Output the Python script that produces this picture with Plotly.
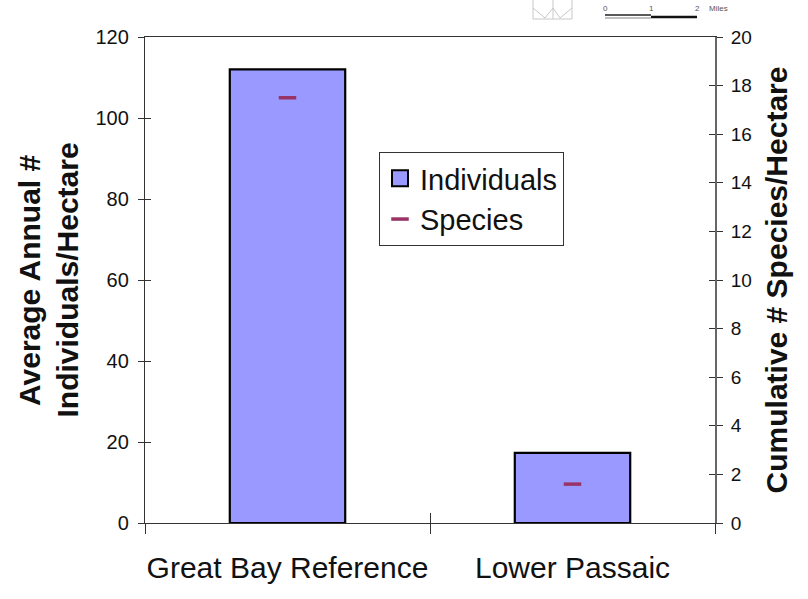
import plotly.graph_objects as go

categories = ["Great Bay Reference", "Lower Passaic"]
individuals = [112, 17.3]
species = [17.5, 1.6]
left_ticks = [0, 20, 40, 60, 80, 100, 120]
right_ticks = list(range(0, 21, 2))
left_title_lines = ["Average Annual #", "Individuals/Hectare"]

W, H = 808, 599
L, R, T, B = 145, 715, 37, 523  # plot area in page pixels
FONT = "Liberation Sans, Arial, sans-serif"
INK = "#111111"
AX = "#333333"

fig = go.Figure()
fig.add_trace(go.Bar(x=categories, y=individuals, name="Individuals", yaxis="y", showlegend=False,
                     marker=dict(color="#9999ff", line=dict(color="#000000", width=2.2)),
                     width=0.405))
fig.add_trace(go.Scatter(x=[None], y=[None], name="Individuals", yaxis="y", mode="markers",
                         marker=dict(symbol="square", size=16, color="#9999ff",
                                     line=dict(color="#000000", width=2))))
fig.add_trace(go.Scatter(x=categories, y=species, name="Species", yaxis="y2", mode="markers",
                         marker=dict(symbol="line-ew", size=12.5, color="#993366",
                                     line=dict(color="#993366", width=3.5))))
# empty traces that keep the inner half of the crossing tick marks on screen
fig.add_trace(go.Scatter(x=categories, y=[None, None], xaxis="x2", yaxis="y3", showlegend=False,
                         hoverinfo="skip"))
fig.add_trace(go.Scatter(x=categories, y=[None, None], xaxis="x2", yaxis="y4", showlegend=False,
                         hoverinfo="skip"))

axis_line = dict(showline=True, linecolor=AX, linewidth=1.3, showgrid=False, zeroline=False,
                 automargin=False)
right_line = dict(showline=True, linecolor="#666666", linewidth=2, showgrid=False, zeroline=False,
                  automargin=False)
tick = dict(tickcolor=AX, tickwidth=1)
fig.update_layout(
    width=W, height=H, autosize=False,
    margin=dict(l=L, r=W - R, t=T, b=H - B, pad=0),
    paper_bgcolor="white", plot_bgcolor="white",
    font=dict(family=FONT, color=INK, size=18),
    xaxis=dict(type="category", tickson="boundaries", ticks="outside", ticklen=10, tickangle=0,
               tickfont=dict(size=30), ticklabelstandoff=18, mirror=True, **tick, **axis_line),
    xaxis2=dict(type="category", overlaying="x", matches="x", tickson="boundaries", ticks="inside",
                ticklen=10, showticklabels=False, anchor="y", **tick, **axis_line),
    yaxis=dict(range=[0, 120], tickvals=left_ticks, ticks="outside", ticklen=6, anchor="x",
               tickfont=dict(size=20), ticklabelstandoff=5, **tick, **axis_line),
    yaxis3=dict(range=[0, 120], tickvals=left_ticks, overlaying="y", ticks="inside", ticklen=6,
                showticklabels=False, anchor="x2", **tick, **axis_line),
    yaxis2=dict(range=[0, 20], tickvals=right_ticks, overlaying="y", side="right", ticks="outside",
                ticklen=6, tickfont=dict(size=19), ticklabelstandoff=4, anchor="x",
                title=dict(text="<b>Cumulative # Species/Hectare</b>", font=dict(size=30)),
                **tick, **right_line),
    yaxis4=dict(range=[0, 20], tickvals=right_ticks, overlaying="y", side="right", ticks="inside",
                ticklen=6, showticklabels=False, anchor="x2", **tick, **right_line),
    showlegend=True,
    legend=dict(x=(379 - L) / (R - L), y=1 - (152 - T) / (B - T), xanchor="left", yanchor="top",
                bgcolor="white", bordercolor=AX, borderwidth=1,
                font=dict(size=29), tracegroupgap=0),
)

# left axis title, one annotation per line so the line spacing can follow the original
for line, x in zip(left_title_lines, [29, 66.5]):
    fig.add_annotation(text=f"<b>{line}</b>", xref="paper", yref="paper",
                       x=(x - L) / (R - L), y=1 - (280 - T) / (B - T), textangle=-90,
                       xanchor="center", yanchor="middle", showarrow=False,
                       font=dict(size=30, color=INK))

# faint map fragment cropped at the top of the picture
grey = dict(color="#c8c8c8", width=1)
shapes = [
    dict(type="rect", x0=533, x1=572, y0=-2, y1=19, line=grey),
    dict(type="line", x0=553, x1=553, y0=-2, y1=19, line=grey),
    dict(type="line", x0=533, x1=545, y0=8, y1=18, line=grey),
    dict(type="line", x0=572, x1=560, y0=8, y1=18, line=grey),
    dict(type="line", x0=553, x1=545, y0=8, y1=18, line=grey),
    dict(type="line", x0=553, x1=560, y0=8, y1=18, line=grey),
    dict(type="line", x0=605, x1=651, y0=15, y1=15, line=dict(color="#222222", width=1.5)),
    dict(type="line", x0=605, x1=651, y0=18, y1=18, line=dict(color="#aaaaaa", width=1.5)),
    dict(type="line", x0=651, x1=697, y0=17, y1=17, line=dict(color="#111111", width=2.5)),
]
for s in shapes:
    s.update(xref="paper", yref="paper", x0=(s["x0"] - L) / (R - L), x1=(s["x1"] - L) / (R - L),
             y0=1 - (s["y0"] - T) / (B - T), y1=1 - (s["y1"] - T) / (B - T))
    fig.add_shape(**s)
for text, x in [("0", 605), ("1", 651), ("2", 697), ("Miles", 718)]:
    fig.add_annotation(text=text, xref="paper", yref="paper", x=(x - L) / (R - L),
                       y=1 - (8 - T) / (B - T), xanchor="center", yanchor="middle", showarrow=False,
                       font=dict(size=8, color="#555555"))

fig.write_html("out.html", config={"displayModeBar": False},
               post_script="document.body.style.margin='0';")
